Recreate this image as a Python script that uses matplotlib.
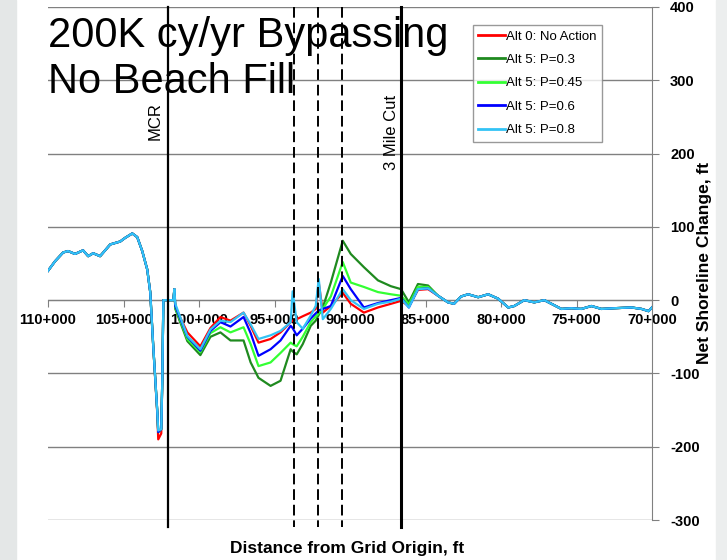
import matplotlib
matplotlib.use("Agg")
import matplotlib.pyplot as plt
from matplotlib.patches import Rectangle
from matplotlib.ticker import FuncFormatter

plt.rcParams['font.family'] = ['Liberation Sans', 'DejaVu Sans']
plt.rcParams['axes.unicode_minus'] = False

# stations (ft from grid origin), left part where all runs coincide
x_left = [110000, 109535, 109000, 108670, 108210, 107680, 107340, 107010, 106550,
          105880, 105220, 104890, 104420, 104090, 103760, 103430, 103230, 103030]
y_left = [40, 53, 65, 67, 63, 68, 60, 64, 60, 76, 80, 85, 91, 86, 67, 42, 11, -63]

# middle part, where the alternatives differ
x_mid = [102760, 102700, 102500, 102430, 102360, 102100, 101700, 101630, 101570,
         100770, 99910, 99240, 98580, 97915, 97050, 96580, 96060, 95260, 94600,
         93930, 93800, 93530, 93130, 92600, 92270, 92070, 91800, 91270, 90480,
         89950, 89080, 88150, 87290, 86620, 86100, 85500, 84830]
alt0_mid = [-156, -190, -182, -110, 0, 0, 0, 15, -10,
            -44, -63, -38, -23, -28, -17, -35, -58, -53, -44,
            -30, -28, -26, -22, -17, -12, 24, -17, -8, 10,
            -5, -17, -10, -5, -1, -8, 14, 15]
p30_mid = [-153, -180, -176, -108, 0, 0, 0, 15, -12,
           -56, -75, -50, -44, -55, -55, -85, -106, -117, -110,
           -67, -70, -74, -60, -35, -28, -20, -10, 24, 81,
           63, 45, 27, 19, 15, -3, 22, 20]
p45_mid = [-153, -180, -176, -108, 0, 0, 0, 15, -10,
           -53, -71, -45, -37, -44, -37, -60, -90, -85, -72,
           -58, -60, -63, -50, -30, -22, -18, -12, 5, 52,
           24, 18, 11, 8, 6, -6, 18, 18]
p60_mid = [-153, -180, -176, -108, 0, 0, 0, 15, -8,
           -50, -69, -42, -30, -36, -23, -45, -76, -67, -55,
           -35, -38, -48, -39, -25, -18, -14, -12, -8, 33,
           15, -10, -4, 0, 3, -10, 15, 16]
p80_mid = [-153, -178, -176, -108, 0, 0, 0, 15, -5,
           -49, -67, -40, -28, -30, -17, -33, -53, -48, -42,
           -30, 12, -30, -39, -21, -8, 29, -26, -12, 15,
           0, -12, -5, -2, 2, -10, 15, 16]

# right part, runs coincide again
x_right = [84170, 83510, 83110, 82640, 82180, 81510, 80850, 80190, 79520, 79120,
           78460, 77800, 77130, 76470, 76000, 75340, 74680, 74010, 73350, 72490,
           71360, 70690, 70230, 70000]
y_right = [6, -3, -5, 5, 8, 4, 8, 2, -10, -8,
           0, -3, 0, -7, -12, -11, -12, -8, -12, -11,
           -10, -12, -15, -10]

labels = ['Alt 0: No Action', 'Alt 5: P=0.3', 'Alt 5: P=0.45', 'Alt 5: P=0.6', 'Alt 5: P=0.8']
colors = ['#ff0000', '#1f8a1f', '#33ff33', '#0000ff', '#33c3f5']
mids = [alt0_mid, p30_mid, p45_mid, p60_mid, p80_mid]

# reference stations
mcr_x = 102050
dashed_x = [93700, 92150, 90500]
cut_x = 86600

fig = plt.figure(figsize=(7.27, 5.60), dpi=100)
# slide background strips at the edges
fig.patches.append(Rectangle((0, 0), 16 / 727, 1, transform=fig.transFigure,
                             color='#e4e7e7', zorder=0))
fig.patches.append(Rectangle((716 / 727, 0), 11 / 727, 1, transform=fig.transFigure,
                             color='#eceeee', zorder=0))

ax = fig.add_axes([48 / 727, 40 / 560, 604 / 727, 513 / 560])
ax.set_facecolor('none')

for lab, col, mid in zip(labels, colors, mids):
    xs = x_left + x_mid + x_right
    ys = y_left + mid + y_right
    ax.plot(xs, ys, color=col, lw=1.6, label=lab, zorder=3)

ax.set_xlim(110000, 70000)
ax.set_ylim(-300, 400)

# station markers
ax.plot([mcr_x, mcr_x], [400, -309], color='black', lw=1.6, clip_on=False, zorder=4)
ax.plot([cut_x, cut_x], [400, -309], color='black', lw=2.2, clip_on=False, zorder=4)
for xd in dashed_x:
    ax.plot([xd, xd], [400, -309], color='black', lw=1.4, dashes=(5.5, 2.5),
            clip_on=False, zorder=4)
ax.text(mcr_x + 850, 245, 'MCR', rotation=90, ha='center', va='center', fontsize=12)
ax.text(cut_x + 650, 229, '3 Mile Cut', rotation=90, ha='center', va='center', fontsize=12)

# axes styling
for side in ('left', 'top'):
    ax.spines[side].set_visible(False)
ax.spines['right'].set_color('#808080')
ax.spines['bottom'].set_position(('data', 0))
ax.spines['bottom'].set_color('#808080')
ax.set_yticks(range(-300, 401, 100))
ax.set_xticks(range(110000, 69999, -5000))
ax.xaxis.set_major_formatter(FuncFormatter(lambda v, p: f"{int(v) // 1000}+000"))
ax.yaxis.tick_right()
ax.tick_params(axis='y', direction='out', length=5, color='#808080', pad=8,
               labelsize=10.5)
ax.tick_params(axis='x', direction='out', length=5, color='#808080', pad=4,
               labelsize=10.5)
for t in ax.get_xticklabels() + ax.get_yticklabels():
    t.set_fontweight('bold')
ax.yaxis.grid(True, color='#808080', lw=1)
ax.set_axisbelow(True)

leg = ax.legend(loc='upper left', bbox_to_anchor=(473 / 727, 1 - 25 / 560),
                bbox_transform=fig.transFigure, fontsize=9.5, frameon=True,
                fancybox=False, edgecolor='#808080', handlelength=2.0,
                handletextpad=0.1, labelspacing=0.85, borderpad=0.4,
                borderaxespad=0)
leg.get_frame().set_linewidth(1.0)
for line in leg.get_lines():
    line.set_linewidth(2.0)

fig.text(48 / 727, 1 - 47 / 560, '200K cy/yr Bypassing', fontsize=30, va='baseline')
fig.text(48 / 727, 1 - 93 / 560, 'No Beach Fill', fontsize=30, va='baseline')
fig.text(347 / 727, 1 - 548 / 560, 'Distance from Grid Origin, ft', fontsize=12.5,
         fontweight='bold', ha='center', va='center')
fig.text(705 / 727, 1 - 263 / 560, 'Net Shoreline Change, ft', fontsize=12.5,
         fontweight='bold', rotation=90, ha='center', va='center')

fig.savefig('out.png', dpi=100)
